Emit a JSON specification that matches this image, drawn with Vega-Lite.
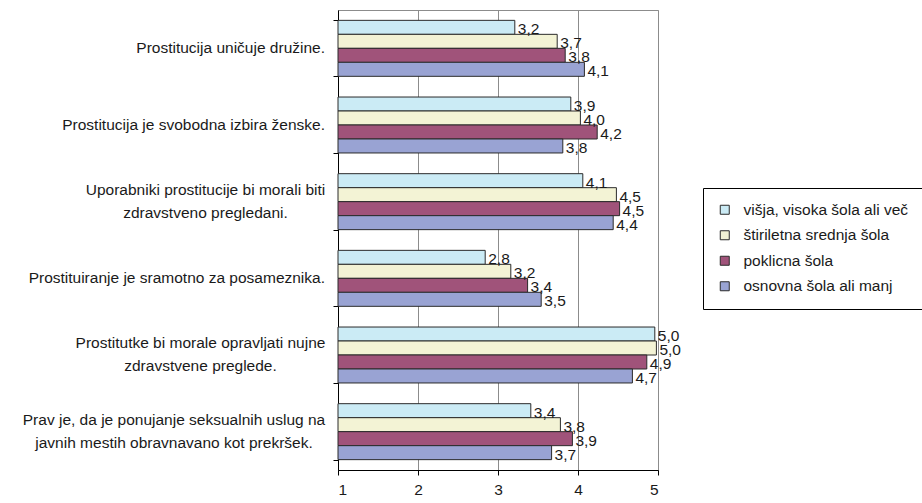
{
  "$schema": "https://vega.github.io/schema/vega-lite/v6.json",
  "width": 320,
  "height": 460,
  "autosize": {"type": "none"},
  "padding": {"left": 338, "top": 10, "right": 264, "bottom": 33},
  "background": "white",
  "config": {
    "font": "Liberation Sans",
    "locale": {"number": {"decimal": ",", "thousands": ".", "grouping": [3], "currency": ["", " €"]}},
    "view": {"stroke": "#8c8c8c", "strokeWidth": 1}
  },
  "data": {
    "values": [
      {"trditev": "Prostitucija uničuje družine.", "izobrazba": "višja, visoka šola ali več", "vrednost": 3.21},
      {"trditev": "Prostitucija uničuje družine.", "izobrazba": "štiriletna srednja šola", "vrednost": 3.74},
      {"trditev": "Prostitucija uničuje družine.", "izobrazba": "poklicna šola", "vrednost": 3.84},
      {"trditev": "Prostitucija uničuje družine.", "izobrazba": "osnovna šola ali manj", "vrednost": 4.08},
      {"trditev": "Prostitucija je svobodna izbira ženske.", "izobrazba": "višja, visoka šola ali več", "vrednost": 3.91},
      {"trditev": "Prostitucija je svobodna izbira ženske.", "izobrazba": "štiriletna srednja šola", "vrednost": 4.03},
      {"trditev": "Prostitucija je svobodna izbira ženske.", "izobrazba": "poklicna šola", "vrednost": 4.24},
      {"trditev": "Prostitucija je svobodna izbira ženske.", "izobrazba": "osnovna šola ali manj", "vrednost": 3.81},
      {"trditev": "Uporabniki prostitucije bi morali biti\nzdravstveno pregledani.", "izobrazba": "višja, visoka šola ali več", "vrednost": 4.06},
      {"trditev": "Uporabniki prostitucije bi morali biti\nzdravstveno pregledani.", "izobrazba": "štiriletna srednja šola", "vrednost": 4.48},
      {"trditev": "Uporabniki prostitucije bi morali biti\nzdravstveno pregledani.", "izobrazba": "poklicna šola", "vrednost": 4.52},
      {"trditev": "Uporabniki prostitucije bi morali biti\nzdravstveno pregledani.", "izobrazba": "osnovna šola ali manj", "vrednost": 4.44},
      {"trditev": "Prostituiranje je sramotno za posameznika.", "izobrazba": "višja, visoka šola ali več", "vrednost": 2.84},
      {"trditev": "Prostituiranje je sramotno za posameznika.", "izobrazba": "štiriletna srednja šola", "vrednost": 3.16},
      {"trditev": "Prostituiranje je sramotno za posameznika.", "izobrazba": "poklicna šola", "vrednost": 3.37},
      {"trditev": "Prostituiranje je sramotno za posameznika.", "izobrazba": "osnovna šola ali manj", "vrednost": 3.54},
      {"trditev": "Prostitutke bi morale opravljati nujne\nzdravstvene preglede.", "izobrazba": "višja, visoka šola ali več", "vrednost": 4.96},
      {"trditev": "Prostitutke bi morale opravljati nujne\nzdravstvene preglede.", "izobrazba": "štiriletna srednja šola", "vrednost": 4.98},
      {"trditev": "Prostitutke bi morale opravljati nujne\nzdravstvene preglede.", "izobrazba": "poklicna šola", "vrednost": 4.86},
      {"trditev": "Prostitutke bi morale opravljati nujne\nzdravstvene preglede.", "izobrazba": "osnovna šola ali manj", "vrednost": 4.68},
      {"trditev": "Prav je, da je ponujanje seksualnih uslug na\njavnih mestih obravnavano kot prekršek.", "izobrazba": "višja, visoka šola ali več", "vrednost": 3.41},
      {"trditev": "Prav je, da je ponujanje seksualnih uslug na\njavnih mestih obravnavano kot prekršek.", "izobrazba": "štiriletna srednja šola", "vrednost": 3.78},
      {"trditev": "Prav je, da je ponujanje seksualnih uslug na\njavnih mestih obravnavano kot prekršek.", "izobrazba": "poklicna šola", "vrednost": 3.93},
      {"trditev": "Prav je, da je ponujanje seksualnih uslug na\njavnih mestih obravnavano kot prekršek.", "izobrazba": "osnovna šola ali manj", "vrednost": 3.67}
    ]
  },
  "encoding": {
    "y": {
      "field": "trditev",
      "type": "nominal",
      "sort": null,
      "scale": {"paddingInner": 0.27, "paddingOuter": 0.135},
      "axis": {
        "title": null,
        "labels": false,
        "tickBand": "extent",
        "domainColor": "#000",
        "tickColor": "#000",
        "tickSize": 5
      }
    },
    "x": {
      "field": "vrednost",
      "type": "quantitative",
      "scale": {"domain": [1, 5], "zero": false, "nice": false},
      "axis": {
        "title": null,
        "values": [1, 2, 3, 4, 5],
        "format": "d",
        "grid": true,
        "gridColor": "#8c8c8c",
        "gridOpacity": 1,
        "domainColor": "#000",
        "tickColor": "#000",
        "tickSize": 5,
        "labelPadding": 7,
        "labelFontSize": 15.5,
        "labelColor": "#1a1a1a"
      }
    }
  },
  "layer": [
    {
      "mark": {"type": "bar", "stroke": "#2b2b2b", "strokeWidth": 1},
      "encoding": {
        "yOffset": {"field": "izobrazba", "type": "nominal", "sort": ["višja, visoka šola ali več", "štiriletna srednja šola", "poklicna šola", "osnovna šola ali manj"]},
        "x2": {"datum": 1},
        "color": {
          "field": "izobrazba",
          "type": "nominal",
          "scale": {
            "domain": ["višja, visoka šola ali več", "štiriletna srednja šola", "poklicna šola", "osnovna šola ali manj"],
            "range": ["#cbebf5", "#f3f3d5", "#a0537a", "#99a3d3"]
          },
          "legend": {
            "title": null,
            "orient": "none",
            "legendX": 365,
            "legendY": 178,
            "strokeColor": "#000",
            "fillColor": "#fff",
            "padding": 14,
            "symbolType": "square",
            "symbolSize": 81,
            "symbolStrokeColor": "#2b2b2b",
            "symbolStrokeWidth": 1,
            "symbolOpacity": 1,
            "labelFontSize": 15.5,
            "labelColor": "#1a1a1a",
            "labelOffset": 11,
            "rowPadding": 8.5,
            "labelLimit": 300
          }
        }
      }
    },
    {
      "mark": {"type": "text", "align": "left", "baseline": "middle", "dx": 3, "dy": 2, "fontSize": 15.5, "color": "#1a1a1a"},
      "encoding": {
        "yOffset": {"field": "izobrazba", "type": "nominal", "sort": ["višja, visoka šola ali več", "štiriletna srednja šola", "poklicna šola", "osnovna šola ali manj"]},
        "text": {"field": "vrednost", "type": "quantitative", "format": ".1f"}
      }
    },
    {
      "transform": [{"filter": "datum.izobrazba == 'poklicna šola' && indexof(datum.trditev, '\\n') < 0"}],
      "mark": {"type": "text", "align": "right", "baseline": "middle", "dx": -13, "fontSize": 15.5, "color": "#1a1a1a"},
      "encoding": {
        "x": {"datum": 1},
        "text": {"field": "trditev", "type": "nominal"}
      }
    },
    {
      "transform": [{"filter": "datum.izobrazba == 'poklicna šola' && indexof(datum.trditev, 'Uporabniki') == 0"}],
      "mark": {"type": "text", "align": "center", "baseline": "line-bottom", "lineHeight": 23, "lineBreak": "\n", "dx": -132.5, "fontSize": 15.5, "color": "#1a1a1a"},
      "encoding": {
        "x": {"datum": 1},
        "text": {"field": "trditev", "type": "nominal"}
      }
    },
    {
      "transform": [{"filter": "datum.izobrazba == 'poklicna šola' && indexof(datum.trditev, 'Prostitutke') == 0"}],
      "mark": {"type": "text", "align": "center", "baseline": "line-bottom", "lineHeight": 23, "lineBreak": "\n", "dx": -137.5, "fontSize": 15.5, "color": "#1a1a1a"},
      "encoding": {
        "x": {"datum": 1},
        "text": {"field": "trditev", "type": "nominal"}
      }
    },
    {
      "transform": [{"filter": "datum.izobrazba == 'poklicna šola' && indexof(datum.trditev, 'Prav je') == 0"}],
      "mark": {"type": "text", "align": "center", "baseline": "line-bottom", "lineHeight": 23, "lineBreak": "\n", "dx": -164, "fontSize": 15.5, "color": "#1a1a1a"},
      "encoding": {
        "x": {"datum": 1},
        "text": {"field": "trditev", "type": "nominal"}
      }
    }
  ]
}
